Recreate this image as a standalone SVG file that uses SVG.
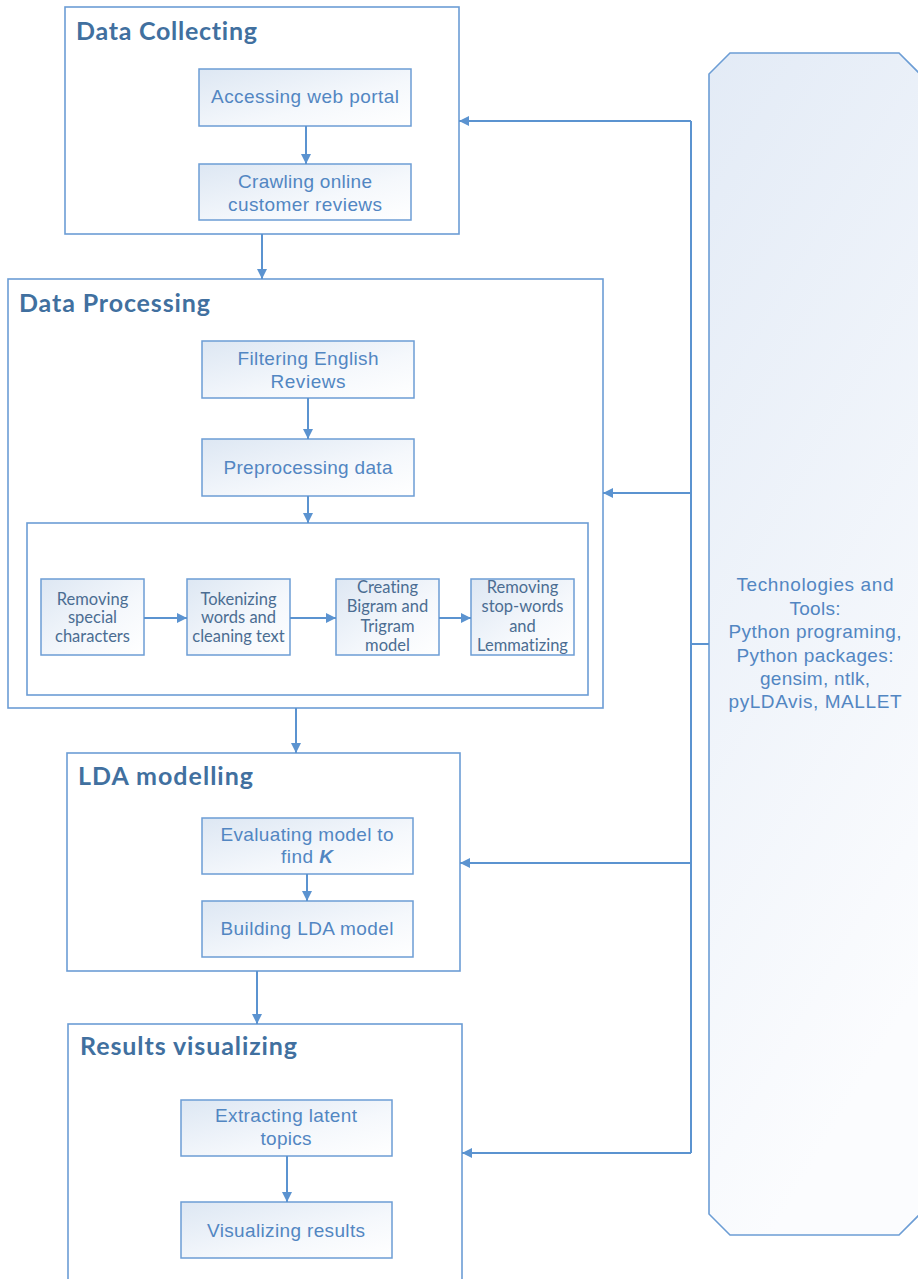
<svg xmlns="http://www.w3.org/2000/svg" width="918" height="1279" viewBox="0 0 918 1279">
<defs>
<linearGradient id="gBox" x1="0" y1="0" x2="1" y2="1">
<stop offset="0" stop-color="#dde7f3"/>
<stop offset="0.6" stop-color="#f5f8fc"/>
<stop offset="1" stop-color="#ffffff"/>
</linearGradient>
<linearGradient id="gTool" x1="0" y1="0" x2="0.3" y2="1">
<stop offset="0" stop-color="#e3ebf6"/>
<stop offset="1" stop-color="#fbfcfe"/>
</linearGradient>
<marker id="ah" viewBox="0 0 10 10" refX="10" refY="5" markerWidth="10" markerHeight="10" markerUnits="userSpaceOnUse" orient="auto">
<path d="M0,0 L10,5 L0,10 z" fill="#5b93d0"/>
</marker>
<style>
.outer{fill:#ffffff;stroke:#6c9dd5;stroke-width:1.6}
.box{fill:url(#gBox);stroke:#6c9dd5;stroke-width:1.5}
.title{font-family:Lato,"Liberation Sans",sans-serif;font-weight:bold;font-size:25px;fill:#41709f;font-variant-ligatures:none}
.t{font-family:"Liberation Sans",Arial,sans-serif;font-size:19px;fill:#5286c2;text-anchor:middle}
.s{font-family:Lato,"Liberation Sans",sans-serif;font-size:16.5px;fill:#4b6d92;text-anchor:middle;font-variant-ligatures:none}
.c{fill:none;stroke:#5b93d0;stroke-width:2}
</style>
</defs>
<rect width="918" height="1279" fill="#ffffff"/>

<g id="tools">
<polygon points="730,53 899,53 920,74 920,1214 899,1235 730,1235 709,1214 709,74" fill="url(#gTool)" stroke="#6c9dd5" stroke-width="1.6"/>
<text class="t" x="815" y="591" textLength="157">Technologies and</text>
<text class="t" x="815" y="615" textLength="51">Tools:</text>
<text class="t" x="815" y="638" textLength="173">Python programing,</text>
<text class="t" x="815" y="662" textLength="157">Python packages:</text>
<text class="t" x="815" y="685" textLength="110">gensim, ntlk,</text>
<text class="t" x="815" y="708" textLength="173">pyLDAvis, MALLET</text>
</g>

<g id="data-collecting">
<rect class="outer" x="65" y="7" width="394" height="227"/>
<text class="title" x="76" y="40" textLength="181">Data Collecting</text>
</g>
<g id="accessing">
<rect class="box" x="199" y="69" width="212" height="57"/>
<text class="t" x="305" y="103" textLength="188">Accessing web portal</text>
</g>
<g id="crawling">
<rect class="box" x="199" y="164" width="212" height="56"/>
<text class="t" x="305" y="188" textLength="134">Crawling online</text>
<text class="t" x="305" y="211" textLength="154">customer reviews</text>
</g>

<g id="data-processing">
<rect class="outer" x="8" y="279" width="595" height="429"/>
<text class="title" x="19" y="312" textLength="191">Data Processing</text>
</g>
<g id="filtering">
<rect class="box" x="202" y="341" width="212" height="57"/>
<text class="t" x="308" y="365" textLength="141">Filtering English</text>
<text class="t" x="308" y="388" textLength="75">Reviews</text>
</g>
<g id="preprocessing">
<rect class="box" x="202" y="439" width="212" height="57"/>
<text class="t" x="308" y="474" textLength="169">Preprocessing data</text>
</g>
<g id="preprocessing-steps">
<rect x="27" y="523" width="561" height="172" fill="#ffffff" stroke="#6c9dd5" stroke-width="1.6"/>
</g>
<g id="removing-special">
<rect class="box" x="41" y="579" width="103" height="76"/>
<text class="s" x="92.5" y="605">Removing</text>
<text class="s" x="92.5" y="623">special</text>
<text class="s" x="92.5" y="642">characters</text>
</g>
<g id="tokenizing">
<rect class="box" x="187" y="579" width="103" height="76"/>
<text class="s" x="238.5" y="605">Tokenizing</text>
<text class="s" x="238.5" y="623">words and</text>
<text class="s" x="238.5" y="642">cleaning text</text>
</g>
<g id="creating-bigram">
<rect class="box" x="336" y="579" width="103" height="76"/>
<text class="s" x="387.5" y="593">Creating</text>
<text class="s" x="387.5" y="612">Bigram and</text>
<text class="s" x="387.5" y="632">Trigram</text>
<text class="s" x="387.5" y="651">model</text>
</g>
<g id="removing-stopwords">
<rect class="box" x="471" y="579" width="103" height="76"/>
<text class="s" x="522.5" y="593">Removing</text>
<text class="s" x="522.5" y="612">stop-words</text>
<text class="s" x="522.5" y="632">and</text>
<text class="s" x="522.5" y="651">Lemmatizing</text>
</g>

<g id="lda-modelling">
<rect class="outer" x="67" y="753" width="393" height="218"/>
<text class="title" x="78" y="785" textLength="175">LDA modelling</text>
</g>
<g id="evaluating">
<rect class="box" x="202" y="818" width="211" height="56"/>
<text class="t" x="307" y="841" textLength="173">Evaluating model to</text>
<text class="t" x="307" y="863" textLength="52">find <tspan font-weight="bold" font-style="italic">K</tspan></text>
</g>
<g id="building">
<rect class="box" x="202" y="901" width="211" height="56"/>
<text class="t" x="307" y="935" textLength="173">Building LDA model</text>
</g>

<g id="results-visualizing">
<rect class="outer" x="68" y="1024" width="394" height="270"/>
<text class="title" x="80" y="1055" textLength="217">Results visualizing</text>
</g>
<g id="extracting">
<rect class="box" x="181" y="1100" width="211" height="56"/>
<text class="t" x="286" y="1122" textLength="142">Extracting latent</text>
<text class="t" x="286" y="1145" textLength="51">topics</text>
</g>
<g id="visualizing">
<rect class="box" x="181" y="1202" width="211" height="56"/>
<text class="t" x="286" y="1237" textLength="158">Visualizing results</text>
</g>

<g id="connectors">
<line class="c" x1="306" y1="126" x2="306" y2="164" marker-end="url(#ah)"/>
<line class="c" x1="262" y1="234" x2="262" y2="279" marker-end="url(#ah)"/>
<line class="c" x1="308" y1="398" x2="308" y2="439" marker-end="url(#ah)"/>
<line class="c" x1="308" y1="496" x2="308" y2="523" marker-end="url(#ah)"/>
<line class="c" x1="144" y1="618" x2="187" y2="618" marker-end="url(#ah)"/>
<line class="c" x1="290" y1="618" x2="336" y2="618" marker-end="url(#ah)"/>
<line class="c" x1="439" y1="618" x2="471" y2="618" marker-end="url(#ah)"/>
<line class="c" x1="296" y1="708" x2="296" y2="753" marker-end="url(#ah)"/>
<line class="c" x1="307" y1="874" x2="307" y2="901" marker-end="url(#ah)"/>
<line class="c" x1="257" y1="971" x2="257" y2="1024" marker-end="url(#ah)"/>
<line class="c" x1="287" y1="1156" x2="287" y2="1202" marker-end="url(#ah)"/>
<line class="c" x1="691" y1="121" x2="691" y2="1153"/>
<line class="c" x1="691" y1="644" x2="709" y2="644"/>
<line class="c" x1="691" y1="121" x2="459" y2="121" marker-end="url(#ah)"/>
<line class="c" x1="691" y1="493" x2="603" y2="493" marker-end="url(#ah)"/>
<line class="c" x1="691" y1="863" x2="460" y2="863" marker-end="url(#ah)"/>
<line class="c" x1="691" y1="1153" x2="462" y2="1153" marker-end="url(#ah)"/>
</g>
</svg>
